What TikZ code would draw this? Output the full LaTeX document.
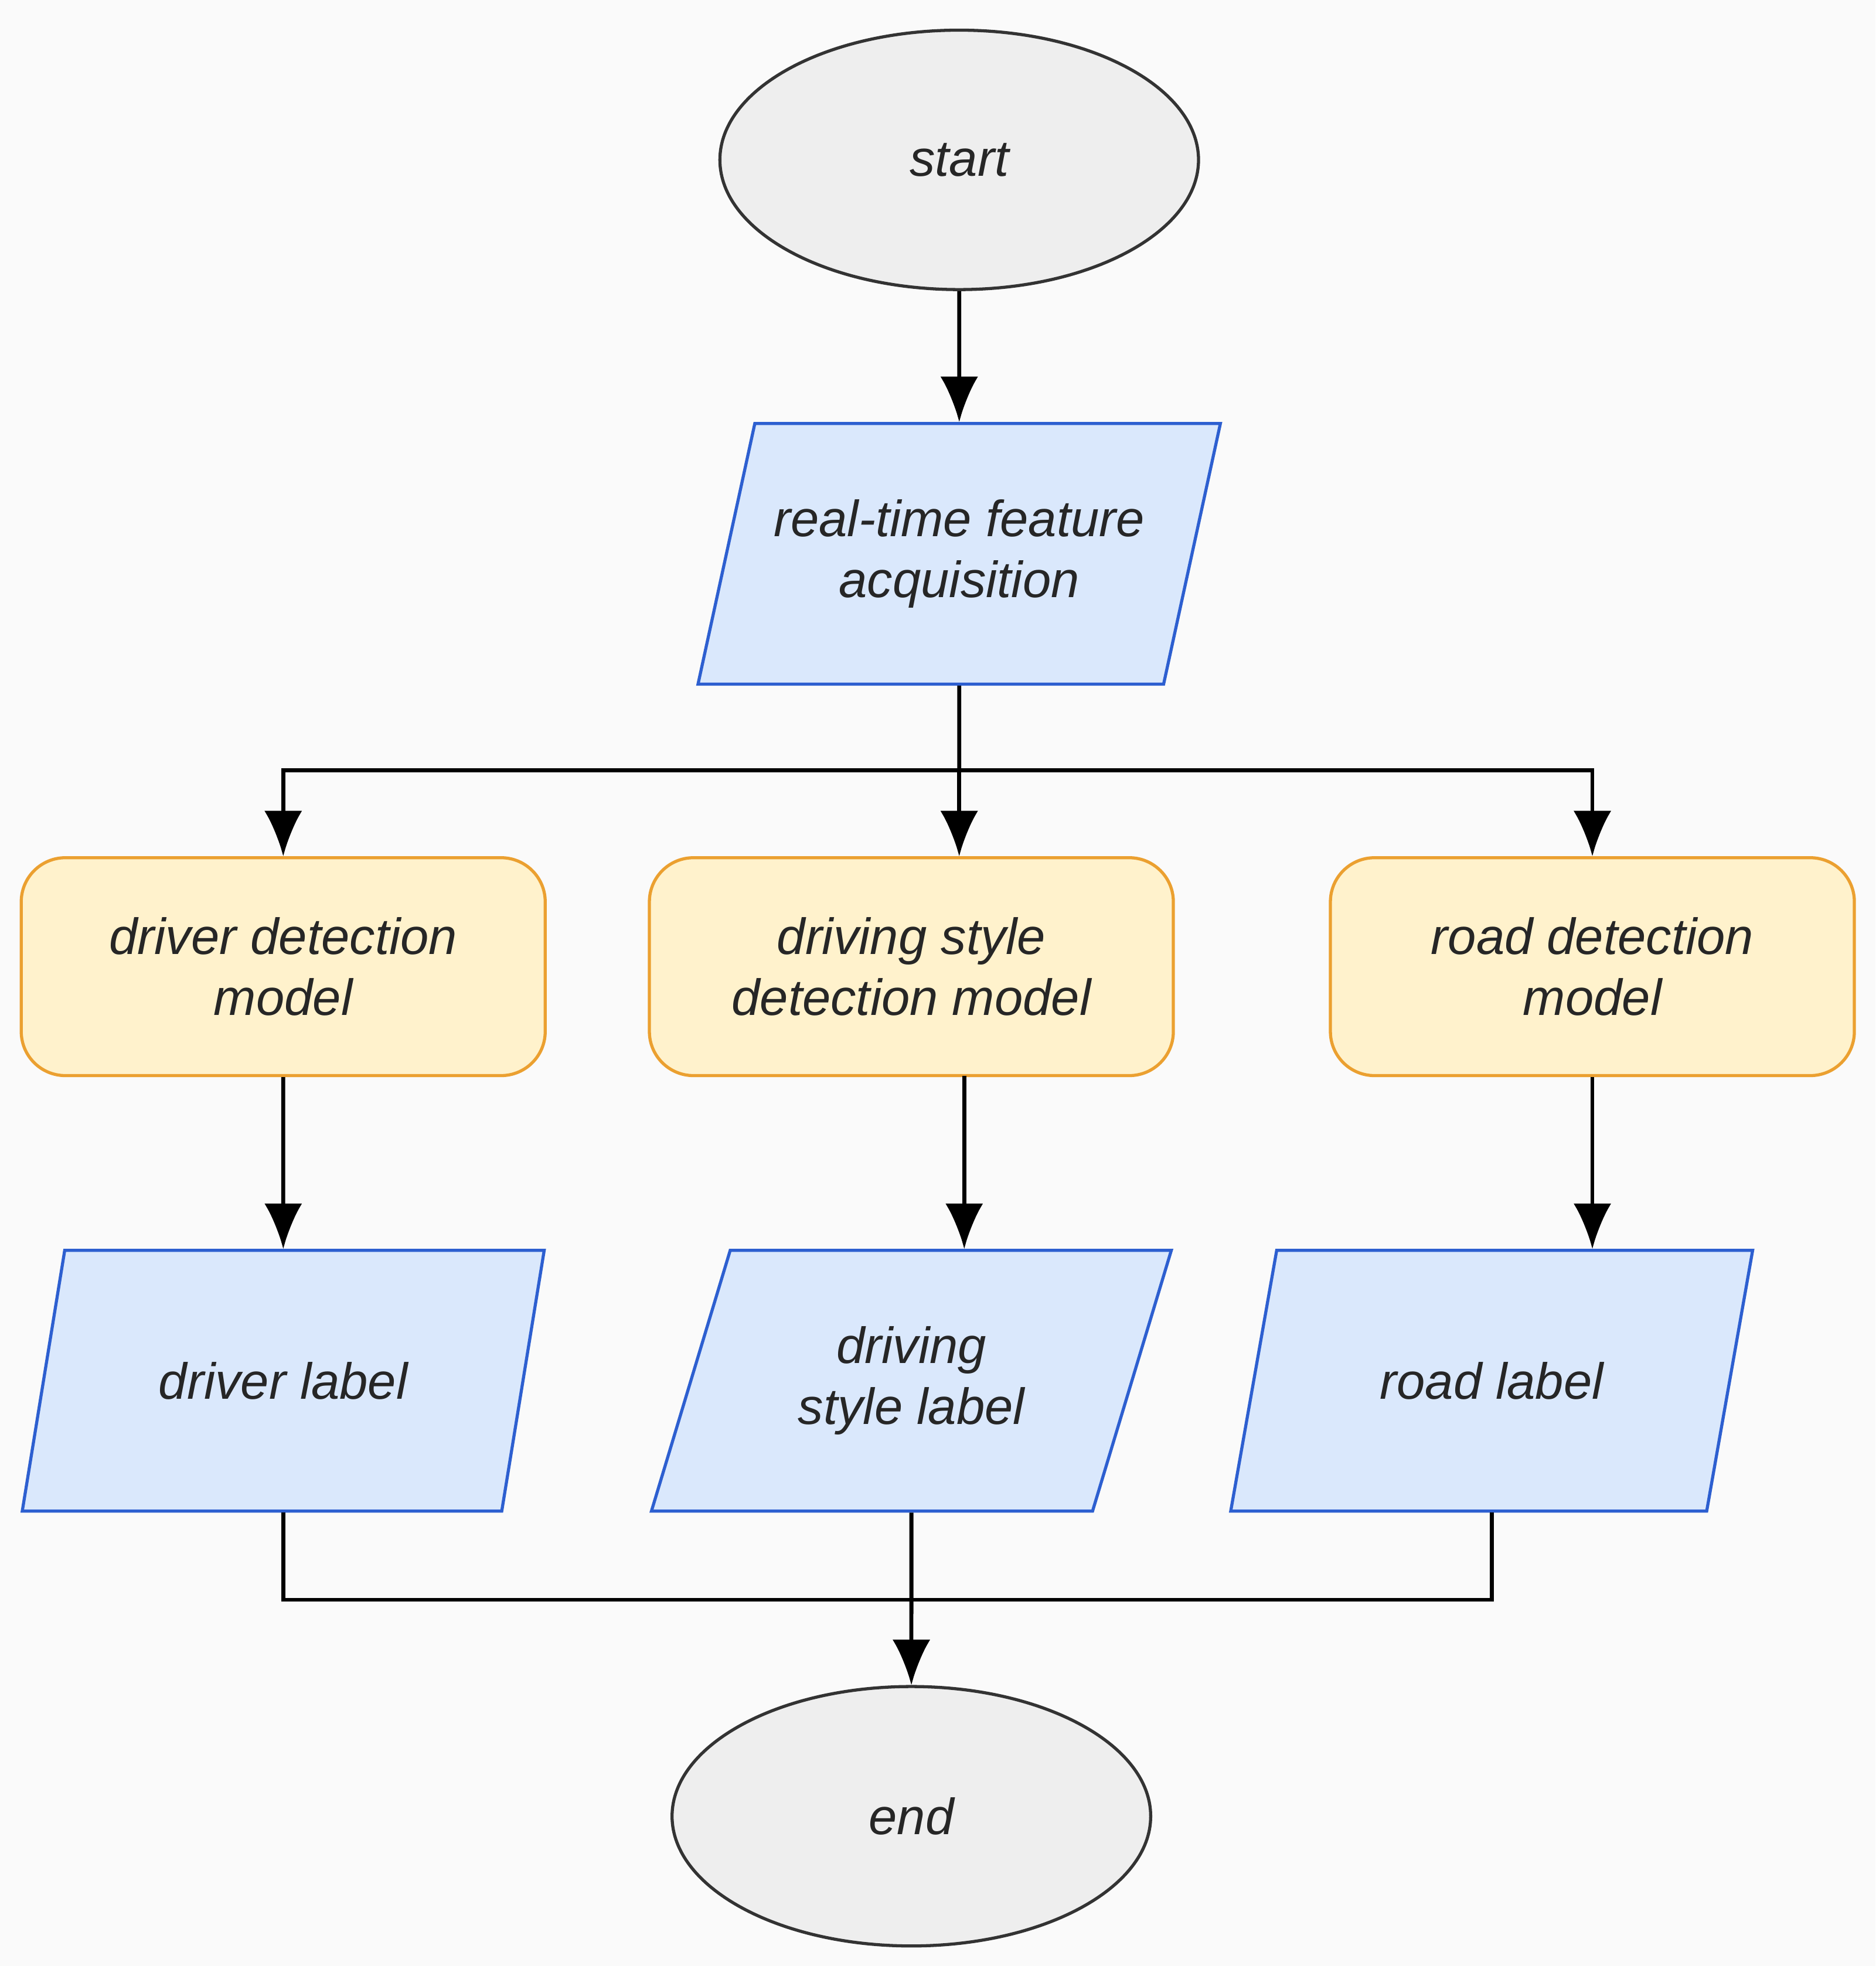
\documentclass[tikz,border=0pt]{standalone}
\usepackage{fontspec}
\setmainfont{Liberation Sans}
\usetikzlibrary{arrows.meta,shapes.geometric,calc}
\tikzset{>={Latex[length=3.6mm,width=3mm]}}
\definecolor{termfill}{HTML}{EEEEEE}
\definecolor{datafill}{HTML}{DAE8FC}
\definecolor{dataline}{HTML}{2D5FD0}
\definecolor{procfill}{HTML}{FFF2CC}
\definecolor{procline}{HTML}{EBA030}
\definecolor{bgfill}{HTML}{FAFAFA}

\begin{document}
\begin{tikzpicture}[x=0.01cm,y=-0.01cm,
    every node/.style={font=\fontsize{11.5}{13.7}\selectfont\itshape,align=center,text=black!85},
    terminal/.style={ellipse,draw=black!80,fill=termfill,line width=0.7pt,
      minimum width=3.8cm,minimum height=2.06cm},
    data/.style={trapezium,trapezium left angle=68,trapezium right angle=112,
      trapezium stretches=true,draw=dataline,fill=datafill,line width=0.7pt,
      minimum width=4.15cm,minimum height=2.07cm},
    model/.style={rectangle,rounded corners=0.35cm,draw=procline,fill=procfill,
      line width=0.7pt,minimum width=4.16cm,minimum height=1.73cm},
    flow/.style={->,line width=0.9pt,black}
  ]
  % background
  \useasboundingbox (0,0) rectangle (1490,1562);
  \fill[bgfill] (0,0) rectangle (1490,1562);

  % NODES
  \node[terminal] (start) at (762,127) {start};
  \node[data] (feat) at (762,440) {real-time feature\\acquisition};
  \node[model] (m1) at (225,768) {driver detection\\model};
  \node[model] (m2) at (724,768) {driving style\\detection model};
  \node[model] (m3) at (1265,768) {road detection\\model};
  \node[data] (l1) at (225,1097) {driver label};
  \node[data] (l2) at (724,1097) {driving\\style label};
  \node[data] (l3) at (1185,1097) {road label};
  \node[terminal] (end) at (724,1443) {end};

  \coordinate (split) at (762,612);
  \coordinate (merge) at (724,1271);
  \coordinate (mid) at (766,855);

  % CONNECTORS
  \draw[flow] (start) -- (feat);
  \draw[line width=0.9pt] (feat.south) -- (split);
  \draw[flow] (split) -| (m1.north);
  \draw[flow] (split) -- (split |- m2.north);
  \draw[flow] (split) -| (m3.north);
  \draw[flow] (m1) -- (l1);
  \draw[flow] (mid) -- (mid |- l2.north);
  \draw[flow] (m3.south) -- (m3.south |- l3.north);
  \draw[line width=0.9pt] (l1.south -| m1) |- (merge);
  \draw[line width=0.9pt] (l3.south) |- (merge);
  \draw[flow] (l2.south) -- (end);
\end{tikzpicture}
\end{document}
